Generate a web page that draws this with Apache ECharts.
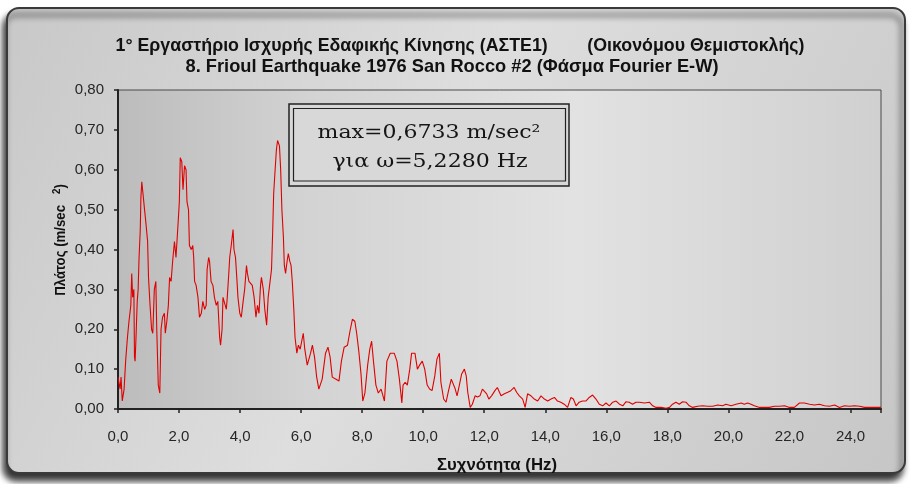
<!DOCTYPE html>
<html>
<head>
<meta charset="utf-8">
<script src="https://cdn.jsdelivr.net/npm/echarts@6/dist/echarts.min.js"></script>
<style>
  html, body { margin: 0; padding: 0; background: #ffffff; }
  #chart { width: 912px; height: 484px; }
</style>
</head>
<body>
<div id="chart"></div>
<script>
// Fourier amplitude spectrum, E-W component (frequency in Hz, amplitude in m/sec^2)
const freqHz = [
  0.00, 0.07, 0.10, 0.14, 0.20, 0.25, 0.31, 0.36, 0.42, 0.45, 0.48, 0.52, 0.54, 0.56, 0.59, 0.63,
  0.66, 0.69, 0.73, 0.75, 0.78, 0.84, 0.87, 0.91, 0.97, 1.00, 1.05, 1.10, 1.14, 1.19, 1.24, 1.27,
  1.32, 1.37, 1.41, 1.46, 1.52, 1.55, 1.60, 1.65, 1.69, 1.74, 1.79, 1.85, 1.90, 1.93, 1.98, 2.01,
  2.04, 2.09, 2.13, 2.18, 2.23, 2.26, 2.31, 2.34, 2.40, 2.45, 2.48, 2.51, 2.56, 2.62, 2.67, 2.73,
  2.78, 2.84, 2.89, 2.92, 2.97, 3.00, 3.05, 3.11, 3.16, 3.22, 3.27, 3.33, 3.36, 3.41, 3.44, 3.49,
  3.55, 3.58, 3.63, 3.66, 3.71, 3.77, 3.80, 3.85, 3.90, 3.93, 3.99, 4.04, 4.10, 4.15, 4.21, 4.24,
  4.29, 4.34, 4.40, 4.46, 4.52, 4.57, 4.62, 4.67, 4.70, 4.76, 4.81, 4.87, 4.92, 4.98, 5.03, 5.07,
  5.10, 5.14, 5.19, 5.228, 5.29, 5.33, 5.37, 5.42, 5.45, 5.49, 5.54, 5.58, 5.63, 5.67, 5.71, 5.76,
  5.80, 5.86, 5.91, 5.97, 6.07, 6.12, 6.20, 6.31, 6.37, 6.44, 6.51, 6.58, 6.69, 6.80, 6.88, 6.95,
  7.02, 7.13, 7.24, 7.32, 7.41, 7.52, 7.60, 7.68, 7.76, 7.82, 7.89, 7.96, 8.02, 8.09, 8.18, 8.25,
  8.31, 8.37, 8.45, 8.53, 8.62, 8.73, 8.81, 8.92, 9.05, 9.14, 9.22, 9.30, 9.34, 9.41, 9.48, 9.56,
  9.62, 9.73, 9.81, 9.88, 9.97, 10.05, 10.13, 10.21, 10.29, 10.38, 10.45, 10.53, 10.58, 10.67, 10.75, 10.83,
  10.92, 10.96, 11.05, 11.11, 11.18, 11.26, 11.35, 11.41, 11.46, 11.54, 11.61, 11.70, 11.78, 11.86, 11.94, 12.00,
  12.08, 12.15, 12.24, 12.35, 12.43, 12.55, 12.66, 12.77, 12.87, 12.98, 13.06, 13.15, 13.26, 13.34, 13.42, 13.53,
  13.64, 13.75, 13.86, 13.97, 14.08, 14.19, 14.30, 14.40, 14.51, 14.62, 14.73, 14.84, 14.92, 15.01, 15.11, 15.22,
  15.33, 15.44, 15.55, 15.66, 15.77, 15.88, 15.99, 16.10, 16.21, 16.32, 16.43, 16.54, 16.64, 16.75, 16.86, 16.97,
  17.08, 17.25, 17.41, 17.52, 17.63, 17.79, 17.96, 18.07, 18.17, 18.28, 18.39, 18.50, 18.61, 18.72, 18.83, 18.99,
  19.16, 19.32, 19.49, 19.65, 19.81, 19.92, 20.09, 20.25, 20.42, 20.52, 20.63, 20.74, 20.85, 21.02, 21.18, 21.34,
  21.51, 21.67, 21.84, 22.00, 22.16, 22.33, 22.49, 22.66, 22.82, 22.98, 23.15, 23.31, 23.48, 23.64, 23.80, 23.97,
  24.13, 24.30, 24.46, 24.62, 24.84, 25.00
];
const amplitude = [
  0.08, 0.05, 0.08, 0.02, 0.05, 0.12, 0.18, 0.22, 0.26, 0.34, 0.28, 0.30, 0.13, 0.12, 0.18, 0.27,
  0.30, 0.38, 0.45, 0.53, 0.57, 0.57, 0.50, 0.47, 0.42, 0.33, 0.26, 0.20, 0.19, 0.30, 0.32, 0.20,
  0.06, 0.04, 0.20, 0.23, 0.24, 0.19, 0.22, 0.26, 0.33, 0.32, 0.37, 0.42, 0.38, 0.38, 0.48, 0.52,
  0.63, 0.62, 0.55, 0.61, 0.60, 0.52, 0.50, 0.41, 0.40, 0.41, 0.38, 0.32, 0.31, 0.28, 0.23, 0.24,
  0.27, 0.25, 0.26, 0.35, 0.38, 0.37, 0.32, 0.31, 0.28, 0.26, 0.27, 0.18, 0.16, 0.20, 0.28, 0.28,
  0.25, 0.28, 0.34, 0.38, 0.41, 0.45, 0.40, 0.38, 0.32, 0.28, 0.24, 0.23, 0.27, 0.30, 0.36, 0.34,
  0.32, 0.32, 0.31, 0.28, 0.23, 0.26, 0.24, 0.31, 0.33, 0.30, 0.25, 0.21, 0.28, 0.28, 0.35, 0.45,
  0.54, 0.59, 0.65, 0.6733, 0.66, 0.60, 0.50, 0.43, 0.36, 0.34, 0.37, 0.39, 0.37, 0.36, 0.32, 0.25,
  0.18, 0.14, 0.16, 0.15, 0.19, 0.15, 0.11, 0.14, 0.16, 0.13, 0.08, 0.05, 0.075, 0.14, 0.155, 0.13,
  0.08, 0.075, 0.07, 0.12, 0.155, 0.16, 0.195, 0.225, 0.22, 0.19, 0.145, 0.09, 0.02, 0.04, 0.11, 0.15,
  0.17, 0.12, 0.06, 0.04, 0.05, 0.02, 0.12, 0.14, 0.14, 0.12, 0.075, 0.015, 0.06, 0.067, 0.06, 0.10,
  0.14, 0.14, 0.10, 0.11, 0.12, 0.10, 0.06, 0.05, 0.046, 0.083, 0.125, 0.14, 0.067, 0.025, 0.017, 0.046,
  0.075, 0.08, 0.05, 0.033, 0.058, 0.088, 0.10, 0.083, 0.042, 0.004, 0.012, 0.033, 0.03, 0.033, 0.05, 0.054,
  0.038, 0.025, 0.033, 0.046, 0.054, 0.033, 0.038, 0.042, 0.046, 0.054, 0.042, 0.033, 0.025, 0.004, 0.038, 0.033,
  0.025, 0.02, 0.033, 0.025, 0.02, 0.025, 0.029, 0.02, 0.017, 0.012, 0.004, 0.029, 0.025, 0.008, 0.017, 0.02,
  0.02, 0.029, 0.035, 0.025, 0.012, 0.008, 0.015, 0.008, 0.017, 0.02, 0.012, 0.008, 0.018, 0.017, 0.012, 0.017,
  0.017, 0.015, 0.017, 0.008, 0.004, 0.004, 0.002, 0.004, 0.012, 0.017, 0.012, 0.018, 0.017, 0.008, 0.004, 0.007,
  0.008, 0.007, 0.007, 0.01, 0.008, 0.012, 0.008, 0.012, 0.015, 0.012, 0.015, 0.012, 0.008, 0.004, 0.004, 0.004,
  0.007, 0.007, 0.008, 0.004, 0.004, 0.015, 0.015, 0.012, 0.01, 0.012, 0.008, 0.007, 0.01, 0.004, 0.008, 0.007,
  0.008, 0.007, 0.004, 0.004, 0.004, 0.004
];

// Axis ranges and tick spacing
const xRange = [0, 25];
const xStep = 2;
const yRange = [0, 0.8];
const yStep = 0.1;

const titleLine1 = '1° Εργαστήριο Ισχυρής Εδαφικής Κίνησης (ΑΣΤΕ1)        (Οικονόμου Θεμιστοκλής)';
const titleLine2 = '8. Frioul Earthquake 1976 San Rocco #2 (Φάσμα Fourier E-W)';
const xName = 'Συχνότητα (Hz)';
const peakAmp = 0.6733;
const peakFreq = 5.2280;

const comma = (v, d) => v.toFixed(d).replace('.', ',');
const sans = "'Liberation Sans', Arial, sans-serif";
const serif = "'DejaVu Serif', 'Liberation Serif', serif";

// Horizontal squeeze factor so that a bold heading fits a given width
const measureCtx = document.createElement('canvas').getContext('2d');
function squeezeTo(text, font, width) {
  measureCtx.font = font;
  return width / measureCtx.measureText(text).width;
}
const titleFont = 'bold 19px ' + sans;
const sx1 = squeezeTo(titleLine1, titleFont, 689);
const sx2 = squeezeTo(titleLine2, titleFont, 533);
const nameFont = 'bold 17px ' + sans;
const sxName = squeezeTo(xName, nameFont, 120);

const chart = echarts.init(document.getElementById('chart'), null, { renderer: 'canvas' });

const points = freqHz.map((f, i) => [f, amplitude[i]]);

// Grid rectangle in pixels
const G = { left: 118, top: 90, right: 31, bottom: 75 };

chart.setOption({
  animation: false,
  backgroundColor: '#ffffff',
  graphic: [
    // outer rounded frame with a soft dark shadow
    {
      type: 'rect', z: -10, silent: true,
      shape: { x: 7, y: 8, width: 898, height: 465, r: 12 },
      style: {
        fill: new echarts.graphic.LinearGradient(0, 0, 1, 1, [
          { offset: 0, color: '#c8c8c8' },
          { offset: 0.45, color: '#dedede' },
          { offset: 1, color: '#c6c6c6' }
        ]),
        stroke: '#3a3a3a', lineWidth: 2,
        shadowColor: 'rgba(0,0,0,0.8)', shadowBlur: 6, shadowOffsetX: -3, shadowOffsetY: 7
      }
    },
    // chart headings
    {
      type: 'text', z: 12, silent: true,
      x: 460, y: 46, scaleX: sx1,
      style: { text: titleLine1, font: titleFont, fill: '#111', textAlign: 'center', textVerticalAlign: 'middle' }
    },
    {
      type: 'text', z: 12, silent: true,
      x: 452, y: 67, scaleX: sx2,
      style: { text: titleLine2, font: titleFont, fill: '#111', textAlign: 'center', textVerticalAlign: 'middle' }
    },
    // x axis name
    {
      type: 'text', z: 12, silent: true,
      x: 497, y: 465, scaleX: sxName,
      style: { text: xName, font: nameFont, fill: '#111', textAlign: 'center', textVerticalAlign: 'middle' }
    },
    // value note box (double outline)
    {
      type: 'rect', z: 10, silent: true,
      shape: { x: 289, y: 104, width: 280, height: 82 },
      style: { fill: '#d8d8d8', stroke: '#222', lineWidth: 1.5 }
    },
    {
      type: 'rect', z: 11, silent: true,
      shape: { x: 293.5, y: 108.5, width: 272, height: 72.5 },
      style: { fill: 'transparent', stroke: '#222', lineWidth: 1.2 }
    },
    {
      type: 'text', z: 12, silent: true,
      x: 429, y: 133, scaleX: 1.16,
      style: {
        text: 'max=' + comma(peakAmp, 4) + ' m/sec²',
        font: '19px ' + serif, fill: '#151515', textAlign: 'center', textVerticalAlign: 'middle'
      }
    },
    {
      type: 'text', z: 12, silent: true,
      x: 430, y: 162, scaleX: 1.16,
      style: {
        text: 'για ω=' + comma(peakFreq, 4) + ' Hz',
        font: '19px ' + serif, fill: '#151515', textAlign: 'center', textVerticalAlign: 'middle'
      }
    },
    // y axis name with raised exponent
    {
      type: 'text', z: 12, silent: true,
      x: 61, y: 240, rotation: Math.PI / 2, scaleX: 0.88,
      style: {
        text: '{a|Πλάτος (m/sec   }{s|2}{a|)}',
        rich: {
          a: { font: 'bold 15px ' + sans, fill: '#111' },
          s: { font: 'bold 11px ' + sans, fill: '#111', padding: [0, 0, 9, 0] }
        },
        textAlign: 'center', textVerticalAlign: 'middle'
      }
    }
  ],
  grid: {
    left: G.left, top: G.top, right: G.right, bottom: G.bottom,
    show: true,
    borderColor: '#4a4a4a', borderWidth: 1,
    backgroundColor: new echarts.graphic.LinearGradient(0, 0, 1, 0, [
      { offset: 0, color: '#bcbcbc' },
      { offset: 0.25, color: '#d3d3d3' },
      { offset: 0.6, color: '#e2e2e2' },
      { offset: 1, color: '#d0d0d0' }
    ])
  },
  xAxis: {
    type: 'value',
    min: xRange[0], max: xRange[1], interval: xStep,
    axisLine: { show: true, onZero: false, lineStyle: { color: '#222', width: 2 } },
    axisTick: { show: true, inside: false, length: 4, lineStyle: { color: '#222', width: 1.5 } },
    axisLabel: {
      margin: 20,
      fontFamily: sans, fontSize: 15, color: '#262626',
      formatter: v => (v > 24.5 ? '' : comma(v, 1))
    },
    splitLine: { show: false }
  },
  yAxis: {
    type: 'value',
    min: yRange[0], max: yRange[1], interval: yStep,
    axisLine: { show: true, lineStyle: { color: '#222', width: 2 } },
    axisTick: { show: true, inside: false, length: 4, lineStyle: { color: '#222', width: 1.5 } },
    axisLabel: {
      margin: 14,
      fontFamily: sans, fontSize: 15, color: '#262626',
      formatter: v => comma(v, 2)
    },
    splitLine: { show: false }
  },
  series: [{
    type: 'line',
    data: points,
    showSymbol: false,
    lineStyle: { color: '#e00000', width: 1.1 },
    z: 3
  }]
});
</script>
</body>
</html>
